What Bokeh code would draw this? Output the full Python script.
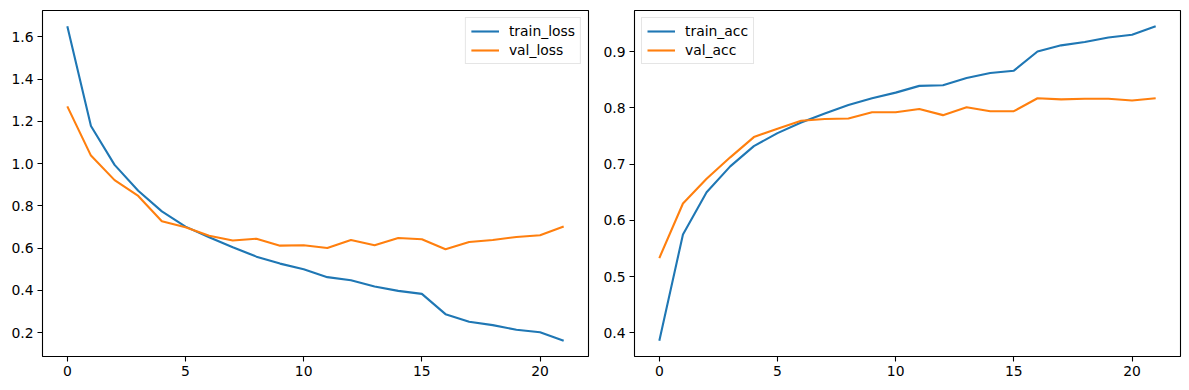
from bokeh.plotting import figure
from bokeh.layouts import row
from bokeh.models import Range1d, FixedTicker, NumeralTickFormatter, Legend, LegendItem
from bokeh.embed import file_html
from bokeh.resources import INLINE

epochs = list(range(22))
train_loss = [1.650, 1.178, 0.994, 0.872, 0.774, 0.702, 0.652, 0.604, 0.560, 0.527, 0.500,
              0.463, 0.448, 0.419, 0.398, 0.384, 0.288, 0.252, 0.236, 0.214, 0.202, 0.162]
val_loss = [1.271, 1.038, 0.922, 0.847, 0.727, 0.699, 0.659, 0.636, 0.645, 0.612, 0.614,
            0.601, 0.639, 0.614, 0.648, 0.642, 0.595, 0.629, 0.639, 0.653, 0.661, 0.703]
train_acc = [0.386, 0.575, 0.650, 0.696, 0.732, 0.755, 0.774, 0.790, 0.805, 0.817, 0.827,
             0.839, 0.840, 0.853, 0.862, 0.866, 0.900, 0.911, 0.917, 0.925, 0.930, 0.945]
val_acc = [0.533, 0.630, 0.674, 0.712, 0.748, 0.763, 0.777, 0.780, 0.781, 0.792, 0.792,
           0.798, 0.787, 0.801, 0.794, 0.794, 0.817, 0.815, 0.816, 0.816, 0.813, 0.817]

x_ticks = [0, 5, 10, 15, 20]
loss_ticks = [0.2, 0.4, 0.6, 0.8, 1.0, 1.2, 1.4, 1.6]
acc_ticks = [0.4, 0.5, 0.6, 0.7, 0.8, 0.9]

BLUE = "#1f77b4"
ORANGE = "#ff7f0e"
FONT = "DejaVu Sans"
FS = "13.9px"


def pad_range(vals, frac=0.05):
    lo, hi = min(vals), max(vals)
    d = (hi - lo) * frac
    return Range1d(lo - d, hi + d)


def make_fig(series, names, yticks, loc, left_border, right_border):
    allv = [v for s in series for v in s]
    p = figure(frame_width=546, frame_height=346, output_backend="svg", toolbar_location=None,
               x_range=pad_range(epochs), y_range=pad_range(allv),
               min_border_left=left_border, min_border_right=right_border,
               min_border_top=10, min_border_bottom=24)
    p.background_fill_color = "white"
    p.border_fill_color = "white"
    p.outline_line_color = "black"
    p.outline_line_width = 1.1
    p.xgrid.visible = False
    p.ygrid.visible = False
    for ax in (p.xaxis[0], p.yaxis[0]):
        ax.axis_line_color = None
        ax.major_tick_line_color = "black"
        ax.major_tick_line_width = 1.1
        ax.major_tick_out = 5
        ax.major_tick_in = 0
        ax.minor_tick_line_color = None
        ax.major_label_text_font = FONT
        ax.major_label_text_font_size = FS
        ax.major_label_text_color = "black"
        ax.major_label_standoff = 4
    p.xaxis.ticker = FixedTicker(ticks=x_ticks)
    p.yaxis.ticker = FixedTicker(ticks=yticks)
    p.yaxis.formatter = NumeralTickFormatter(format="0.0")
    p.xaxis.formatter = NumeralTickFormatter(format="0")
    items = []
    for s, name, col in zip(series, names, [BLUE, ORANGE]):
        r = p.line(epochs, s, line_color=col, line_width=2.1)
        items.append(LegendItem(label=name, renderers=[r]))
    leg = Legend(items=items, location=loc, margin=7, padding=5, spacing=3,
                 glyph_width=28, glyph_height=16, label_height=16, label_standoff=10,
                 label_text_font=FONT, label_text_font_size=FS, label_text_color="black",
                 border_line_color="#cccccc", border_line_width=1,
                 background_fill_color="white", background_fill_alpha=0.8)
    p.add_layout(leg)
    return p


p1 = make_fig([train_loss, val_loss], ["train_loss", "val_loss"], loss_ticks, "top_right", 42, 6)
p2 = make_fig([train_acc, val_acc], ["train_acc", "val_acc"], acc_ticks, "top_left", 40, 2)

layout = row(p1, p2)
open("out.html", "w").write(file_html(layout, INLINE))
